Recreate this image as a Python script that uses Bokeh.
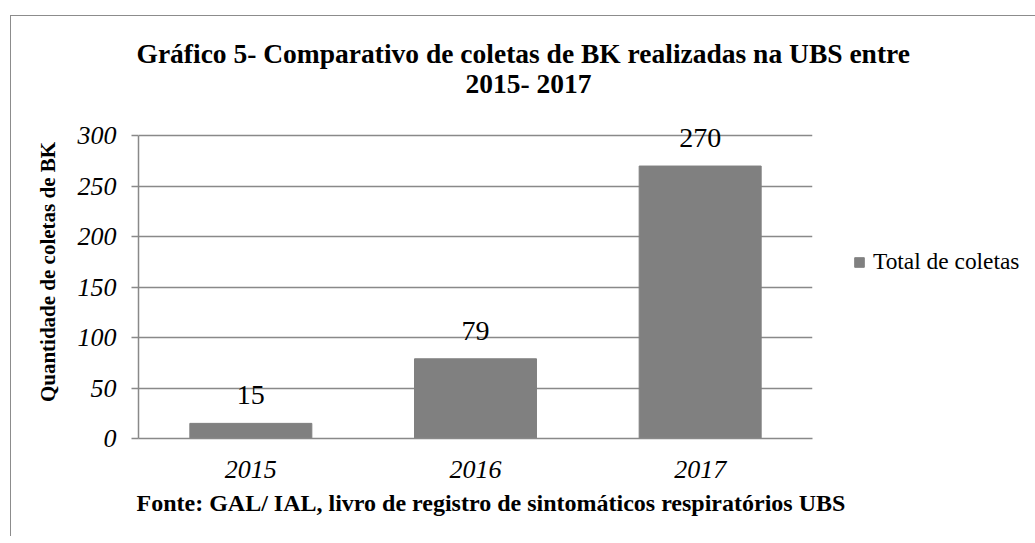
from bokeh.plotting import figure
from bokeh.models import (ColumnDataSource, FactorRange, Range1d, FixedTicker, LabelSet,
                          Legend, LegendItem, Title)
from bokeh.embed import file_html
from bokeh.resources import INLINE

# ---- data ----
years = ["2015", "2016", "2017"]
totals = [15, 79, 270]
y_ticks = [0, 50, 100, 150, 200, 250, 300]
series_name = "Total de coletas"
title_line1 = "Gráfico 5- Comparativo de coletas de BK realizadas na UBS entre"
title_line2 = "2015- 2017"
y_label = "Quantidade de coletas de BK"
source_note = "Fonte: GAL/ IAL, livro de registro de sintomáticos respiratórios UBS"

FONT = "Liberation Serif"
GRID = "#898989"
BAR = "#808080"

src = ColumnDataSource(dict(x=years, top=totals, lab=[str(v) for v in totals]))

p = figure(frame_width=674, frame_height=333, x_range=FactorRange(*years, range_padding=0),
           y_range=Range1d(0, 330), output_backend="svg", toolbar_location=None,
           min_border_left=127, min_border_right=216, min_border_top=89,
           min_border_bottom=98)
p.styles = {"margin-left": "10px", "margin-top": "15px",
            "border-left": "1.5px solid #8c8c8c", "border-top": "1.5px solid #8c8c8c"}
p.title.visible = False
p.outline_line_color = None
p.background_fill_color = "white"
p.border_fill_color = "white"

r = p.vbar(x="x", top="top", width=0.543, source=src, color=BAR)

labels = LabelSet(x="x", y="top", text="lab", source=src, y_offset=19,
                  text_align="center", text_baseline="alphabetic",
                  text_font=FONT, text_font_size="28px", text_color="black")
p.add_layout(labels)

# y axis
p.yaxis.ticker = FixedTicker(ticks=y_ticks)
p.yaxis.bounds = (0, 300)
p.yaxis.major_label_text_font = FONT
p.yaxis.major_label_text_font_style = "italic"
p.yaxis.major_label_text_font_size = "26px"
p.yaxis.major_label_text_color = "black"
p.yaxis.major_label_standoff = 15
p.yaxis.major_tick_out = 7
p.yaxis.major_tick_in = 0
p.yaxis.minor_tick_line_color = None
p.yaxis.major_tick_line_color = GRID
p.yaxis.major_tick_line_width = 1.5
p.yaxis.axis_line_color = GRID
p.yaxis.axis_line_width = 1.5
p.yaxis.axis_label = y_label
p.yaxis.axis_label_text_font = FONT
p.yaxis.axis_label_text_font_style = "bold"
p.yaxis.axis_label_text_font_size = "21px"
p.yaxis.axis_label_text_color = "black"
p.yaxis.axis_label_standoff = 15

# x axis
p.xaxis.major_label_text_font = FONT
p.xaxis.major_label_text_font_style = "italic"
p.xaxis.major_label_text_font_size = "26px"
p.xaxis.major_label_text_color = "black"
p.xaxis.major_label_standoff = 16
p.xaxis.major_tick_line_color = None
p.xaxis.minor_tick_line_color = None
p.xaxis.axis_line_color = GRID
p.xaxis.axis_line_width = 1.5

p.xgrid.grid_line_color = None
p.ygrid.grid_line_color = GRID
p.ygrid.grid_line_width = 1.5
p.ygrid.bounds = (0, 300)

# titles
t2 = Title(text=title_line2, align="left", offset=327, text_font=FONT,
           text_font_size="27.5px", text_font_style="bold", text_color="black", standoff=13)
t1 = Title(text=title_line1, align="left", offset=-2, text_font=FONT,
           text_font_size="27.5px", text_font_style="bold", text_color="black", standoff=-18)
p.add_layout(t2, "above")
p.add_layout(t1, "above")

foot = Title(text=source_note, align="left", offset=-2, text_font=FONT,
             text_font_size="24px", text_font_style="bold", text_color="black", standoff=14)
p.add_layout(foot, "below")

# legend
legend = Legend(items=[LegendItem(label=series_name, renderers=[r])],
                location=(41, 163), padding=0, margin=0, border_line_color=None,
                background_fill_alpha=0, glyph_width=12, glyph_height=12,
                label_standoff=8, label_text_font=FONT, label_text_font_size="23.4px",
                label_text_color="black")
p.add_layout(legend, "right")

open("out.html", "w").write(file_html(p, INLINE))
